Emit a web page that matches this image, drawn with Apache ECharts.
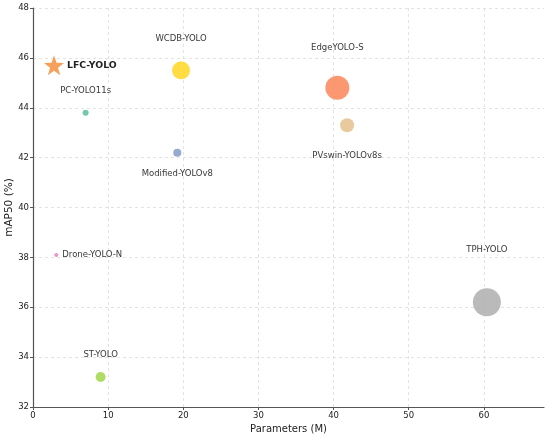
<!DOCTYPE html>
<html>
<head>
<meta charset="utf-8">
<script src="https://cdn.jsdelivr.net/npm/echarts@6/dist/echarts.min.js"></script>
<style>
  html, body {margin: 0; padding: 0; background: #fff;}
  #chart {width: 550px; height: 437px;}
</style>
</head>
<body>
<div id="chart"></div>
<script>
// Model comparison: parameters (M) vs mAP50 (%), bubble = relative model cost.
const models = ["LFC-YOLO", "WCDB-YOLO", "PC-YOLO11s", "Modified-YOLOv8", "EdgeYOLO-S",
  "PVswin-YOLOv8s", "Drone-YOLO-N", "ST-YOLO", "TPH-YOLO"]
const params = [2.8, 19.7, 7.0, 19.2, 40.5, 41.8, 3.1, 9.0, 60.4]
const map50 = [45.7, 45.5, 43.8, 42.2, 44.8, 43.3, 38.1, 33.2, 36.2]
const bubble = [20, 18, 6, 8, 24, 14, 4, 10, 28]
const xTicks = [0, 10, 20, 30, 40, 50, 60]

const FONT = "DejaVu Sans"

// Set2-like palette, one per model.
const COLORS = ["#f5a15c", "#ffd92f", "#66c2a5", "#8da0cb", "#fc8d62",
  "#e5c494", "#e78ac3", "#a6d854", "#b3b3b3"]

// Label placement per model: offset from marker centre, or to the right.
const LABEL = {
  "LFC-YOLO": {position: "right", distance: 3, fontWeight: "bold", fontSize: 9.3},
  "WCDB-YOLO": {offset: [0, -32]},
  "PC-YOLO11s": {offset: [0, -22]},
  "Modified-YOLOv8": {offset: [0, 21]},
  "EdgeYOLO-S": {offset: [0, -40]},
  "PVswin-YOLOv8s": {offset: [0, 31]},
  "Drone-YOLO-N": {position: "right", distance: 4},
  "ST-YOLO": {offset: [0, -22]},
  "TPH-YOLO": {offset: [0, -52]},
}

const points = models.map((name, i) => {
  const lab = LABEL[name]
  return {
    name,
    value: [params[i], map50[i]],
    symbol: i === 0 ? "path://M0,-10 L2.35,-3.24 L9.51,-3.09 L3.8,1.24 L5.88,8.09 L0,4 L-5.88,8.09 L-3.8,1.24 L-9.51,-3.09 L-2.35,-3.24 Z" : "circle",
    symbolSize: bubble[i],
    itemStyle: {color: COLORS[i], opacity: i === 0 ? 1 : 0.9},
    label: {
      show: true,
      formatter: name,
      color: "#222",
      fontFamily: FONT,
      fontSize: lab.fontSize || 8.5,
      fontWeight: lab.fontWeight || "normal",
      position: lab.position || "inside",
      distance: lab.distance || 0,
      offset: lab.offset || [0, 0],
    },
  }
})

const chart = echarts.init(document.getElementById("chart"), null, {renderer: "canvas"})

const gridLine = {show: true, lineStyle: {color: "#dcdcdc", type: [3, 3], width: 0.8}}
const axisLine = {show: true, onZero: false, lineStyle: {color: "#555", width: 1.2}}
const tickLabel = {color: "#222", fontFamily: FONT, fontSize: 8.5}

chart.setOption({
  animation: false,
  grid: {left: 33, right: 6, top: 8, bottom: 30, containLabel: false, outerBoundsMode: "none"},
  xAxis: {
    type: "value",
    min: 0,
    max: 68,
    interval: 10,
    name: "Parameters (M)",
    nameLocation: "middle",
    nameGap: 17,
    nameMoveOverlap: false,
    nameTextStyle: {color: "#222", fontFamily: FONT, fontSize: 10},
    axisLine,
    axisTick: {show: true, length: 3, customValues: xTicks, lineStyle: {color: "#555"}},
    axisLabel: {...tickLabel, margin: 4, customValues: xTicks},
    splitLine: gridLine,
  },
  yAxis: {
    type: "value",
    min: 32,
    max: 48,
    interval: 2,
    name: "mAP50 (%)",
    nameLocation: "middle",
    nameGap: 18,
    nameMoveOverlap: false,
    nameTextStyle: {color: "#222", fontFamily: FONT, fontSize: 10.5},
    axisLine,
    axisTick: {show: true, length: 3, lineStyle: {color: "#555"}},
    axisLabel: {...tickLabel, margin: 4},
    splitLine: gridLine,
  },
  series: [{type: "scatter", data: points, emphasis: {disabled: true}}],
})
</script>
</body>
</html>
